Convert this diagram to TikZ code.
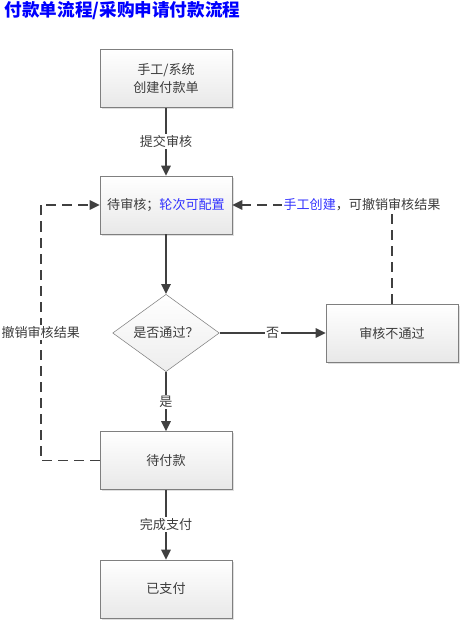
\documentclass[tikz,border=0pt]{standalone}
\usepackage{fontspec}
\newfontfamily\cjk{Noto Sans CJK SC}
\usepackage{tikz}
\usetikzlibrary{arrows.meta, positioning, shapes.geometric, shadows}

\definecolor{linegray}{HTML}{404040}
\definecolor{textgray}{HTML}{3C3C3C}
\definecolor{boxgray}{HTML}{7F7F7F}
\definecolor{titleblue}{HTML}{0000FF}
\definecolor{noteblue}{HTML}{3333FF}

\begin{document}
\begin{tikzpicture}[
	x=0.75pt, y=-0.75pt,
	every node/.style={font=\cjk\fontsize{9.8}{13.5}\selectfont, text=textgray},
	arrow/.style={-{Triangle[length=7.5pt, width=7pt]}, draw=linegray, line width=1.5pt},
	dasharrow/.style={-{Triangle[length=7.5pt, width=7pt]}, draw=linegray, line width=1.4pt, dash pattern=on 7.5pt off 4.5pt},
	stepbox/.style={draw=boxgray, rectangle, minimum width=99pt, minimum height=43.5pt, align=center,
		top color=white, bottom color=black!9, drop shadow={shadow xshift=1.2pt, shadow yshift=-1.2pt, opacity=0.25}},
	decision/.style={draw=boxgray, diamond, minimum width=80pt, minimum height=43pt, inner sep=0pt,
		top color=white, bottom color=black!7},
	edgelabel/.style={fill=white, inner sep=1pt}
	]
	
	\useasboundingbox (0,0) rectangle (461,620);
	
	% === TITLE ===
	\node[anchor=west, text=titleblue, font=\cjk\bfseries\fontsize{13.2}{15}\selectfont] (title) at (0, 11) {付款单流程/采购申请付款流程};
	
	% === STEPS ===
	\node[stepbox] (create) at (166, 78.5) {手工/系统\\创建付款单};
	\node[stepbox] (pending) at (166, 205) {待审核；\textcolor{noteblue}{轮次可配置}};
	\node[decision] (check) at (166, 333) {是否通过？};
	\node[stepbox] (reject) at (392, 333) {审核不通过};
	\node[stepbox] (topay) at (166, 460.5) {待付款};
	\node[stepbox] (paid) at (166, 589) {已支付};
	
	% === MAIN FLOW ===
	\draw[arrow] (create) -- node[edgelabel] {提交审核} (pending);
	\draw[arrow] (pending) -- (check);
	\draw[arrow] (check) -- node[edgelabel] {否} (reject);
	\draw[arrow] (check) -- node[edgelabel] {是} (topay);
	\draw[arrow] (topay) -- node[edgelabel] {完成支付} (paid);
	
	% === WITHDRAW REVIEW (dashed) ===
	\draw[dasharrow] (reject.north) |- node[edgelabel, pos=0.5, xshift=-22.5pt] {\textcolor{noteblue}{手工创建}，可撤销审核结果} (pending.east);
	\draw[dasharrow] (topay.west) -- ++(-59, 0) |- node[edgelabel, pos=0.25] {撤销审核结果} (pending.west);
	
\end{tikzpicture}
\end{document}
